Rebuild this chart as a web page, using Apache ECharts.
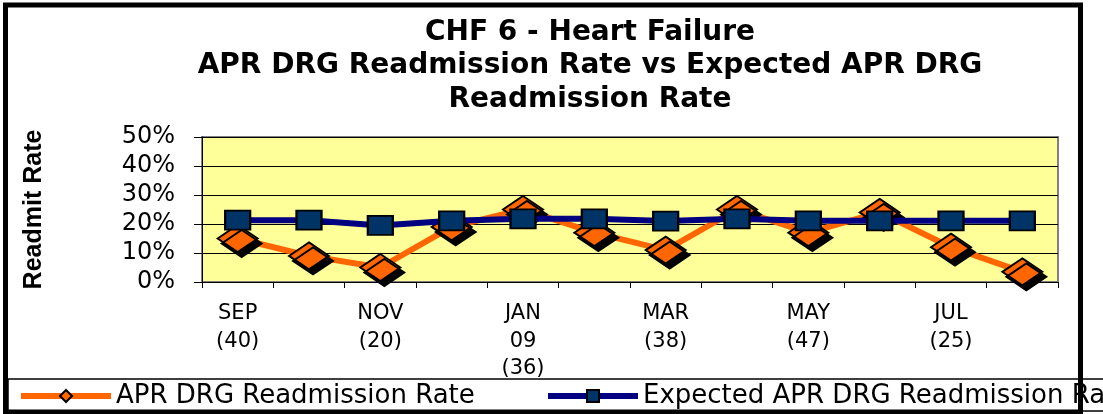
<!DOCTYPE html>
<html>
<head>
<meta charset="utf-8">
<script src="https://cdn.jsdelivr.net/npm/echarts@6/dist/echarts.min.js"></script>
<style>
html,body{margin:0;padding:0;background:#fff;}
#chart{width:1103px;height:414px;}
</style>
</head>
<body>
<div id="chart"></div>
<script>
// ---- data ----
var categories = ['SEP\n(40)', 'OCT', 'NOV\n(20)', 'DEC', 'JAN\n09\n(36)', 'FEB', 'MAR\n(38)', 'APR', 'MAY\n(47)', 'JUN', 'JUL\n(25)', 'AUG'];
var readmitRate = [15, 9, 5, 19, 25, 17, 11, 25, 17, 24, 12, 3.5];
var expectedRate = [21.3, 21.3, 19.5, 21.1, 21.8, 21.8, 21, 21.8, 21.1, 21.1, 21.1, 21.1];
var seriesNames = ['APR DRG Readmission Rate', 'Expected APR DRG Readmission Rate'];
var titleText = 'CHF 6 - Heart Failure\nAPR DRG Readmission Rate vs Expected APR DRG\nReadmission Rate';
var yAxisName = 'Readmit Rate';

var chart = echarts.init(document.getElementById('chart'), null, {renderer: 'canvas'});
var FONT = 'DejaVu Sans';
var legendCommon = {
  orient: 'horizontal',
  top: 383,
  padding: 0,
  itemWidth: 90,
  itemHeight: 15,
  itemGap: 0,
  selectedMode: false,
  textStyle: {fontFamily: FONT, fontSize: 26, color: '#000'},
  lineStyle: {width: 6},
  itemStyle: {shadowColor: 'rgba(0,0,0,0)', shadowBlur: 0, shadowOffsetX: 0, shadowOffsetY: 0}
};
var option = {
  animation: false,
  backgroundColor: '#fff',
  title: {
    text: titleText,
    left: 590,
    top: 15.5,
    textAlign: 'center',
    padding: 0,
    textStyle: {fontFamily: FONT, fontWeight: 'bold', fontSize: 28, lineHeight: 33.5, color: '#000'}
  },
  legend: [
    Object.assign({}, legendCommon, {data: [seriesNames[0]], left: 18}),
    Object.assign({}, legendCommon, {data: [seriesNames[1]], left: 545})
  ],
  grid: {
    left: 202, right: 45, top: 137, bottom: 132,
    show: true, backgroundColor: '#FFFF99', borderColor: '#808080', borderWidth: 2
  },
  xAxis: {
    type: 'category',
    data: categories,
    boundaryGap: true,
    axisLine: {show: true, lineStyle: {color: '#000', width: 1}},
    axisTick: {show: true, interval: 0, alignWithLabel: false, length: 6, lineStyle: {color: '#000'}},
    axisLabel: {interval: 1, margin: 18, fontFamily: FONT, fontSize: 21, lineHeight: 27.5, color: '#000'},
    splitLine: {show: false}
  },
  yAxis: {
    type: 'value',
    min: 0, max: 50, interval: 10,
    name: yAxisName,
    nameLocation: 'middle',
    nameRotate: 90,
    nameGap: 155,
    nameTextStyle: {fontFamily: 'Liberation Sans', fontWeight: 'bold', fontSize: 25, color: '#000'},
    axisLine: {show: true, lineStyle: {color: '#000', width: 1}},
    axisTick: {show: true, inside: false, length: 8, lineStyle: {color: '#000'}},
    axisLabel: {formatter: '{value}%', margin: 27, fontFamily: FONT, fontSize: 24, color: '#000'},
    splitLine: {show: true, lineStyle: {color: '#000', width: 1}}
  },
  series: [
    {
      name: seriesNames[0],
      type: 'line',
      data: readmitRate,
      symbol: 'diamond',
      symbolSize: [40, 27],
      lineStyle: {color: '#FF6600', width: 6},
      itemStyle: {color: '#FF6600', borderColor: '#000', borderWidth: 2,
        shadowColor: '#000', shadowBlur: 0, shadowOffsetX: 4, shadowOffsetY: 5},
      emphasis: {disabled: true},
      z: 2
    },
    {
      name: seriesNames[1],
      type: 'line',
      data: expectedRate,
      symbol: 'rect',
      symbolSize: [25, 19],
      lineStyle: {color: '#000080', width: 6},
      itemStyle: {color: '#003366', borderColor: '#000', borderWidth: 2},
      emphasis: {disabled: true},
      z: 3
    }
  ],
  graphic: [
    {type: 'rect', z: 100, silent: true,
      shape: {x: 8, y: 379, width: 1120, height: 32},
      style: {fill: 'none', stroke: '#000', lineWidth: 1.5}},
    {type: 'rect', z: 101, silent: true,
      shape: {x: 5.5, y: 5, width: 1075, height: 407},
      style: {fill: 'none', stroke: '#000', lineWidth: 5}}
  ]
};
chart.setOption(option);
</script>
</body>
</html>
